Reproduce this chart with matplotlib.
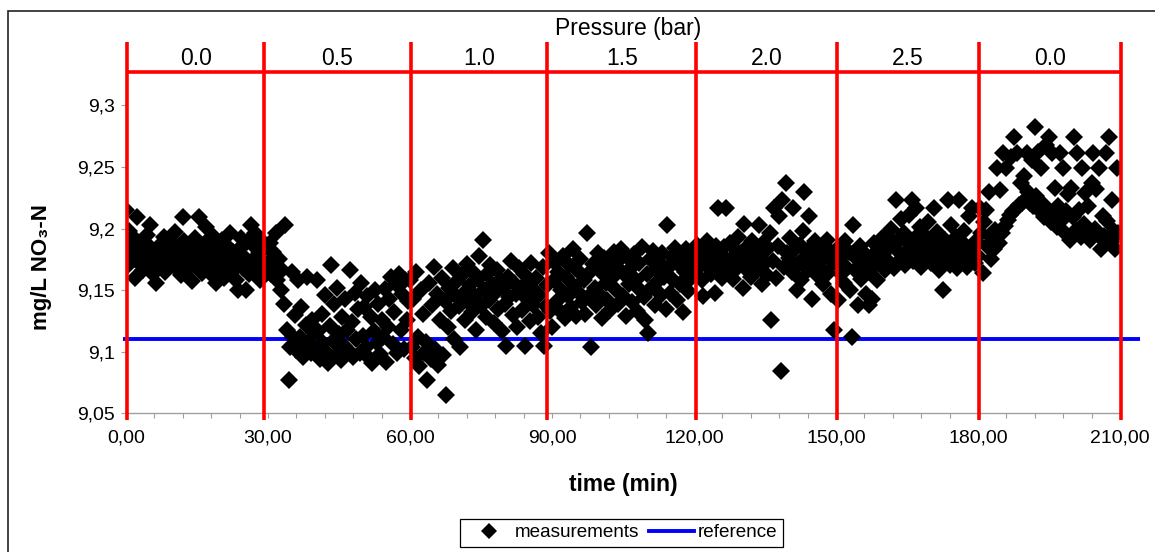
import numpy as np
import matplotlib
matplotlib.use("Agg")
import matplotlib.pyplot as plt
from matplotlib.ticker import FixedLocator, FuncFormatter
from matplotlib.patches import Rectangle
from matplotlib.lines import Line2D

plt.rcParams["font.family"] = ["Liberation Sans", "DejaVu Sans"]

# NO3-N readings (mg/L), one every 20 s, in 30-min blocks
no3_000_030 = [
    9.215, 9.170, 9.198, 9.185, 9.176, 9.192, 9.160, 9.209, 9.182, 9.171,
    9.188, 9.166, 9.179, 9.195, 9.172, 9.203, 9.184, 9.163, 9.177, 9.156,
    9.169, 9.186, 9.181, 9.174, 9.193, 9.165, 9.178, 9.188, 9.170, 9.183,
    9.176, 9.197, 9.168, 9.186, 9.179, 9.162, 9.209, 9.190, 9.174, 9.181,
    9.167, 9.185, 9.157, 9.178, 9.192, 9.171, 9.209, 9.183, 9.164, 9.176,
    9.188, 9.201, 9.170, 9.180, 9.163, 9.194, 9.174, 9.156, 9.185, 9.168,
    9.179, 9.191, 9.160, 9.175, 9.186, 9.170, 9.196, 9.165, 9.181, 9.173,
    9.158, 9.150, 9.184, 9.192, 9.168, 9.177, 9.150, 9.189, 9.163, 9.203,
    9.174, 9.186, 9.196, 9.169, 9.180, 9.158, 9.190, 9.172, 9.184, 9.165,
]
no3_030_060 = [
    9.172, 9.188, 9.163, 9.181, 9.170, 9.196, 9.158, 9.175, 9.150, 9.166,
    9.139, 9.203, 9.118, 9.077, 9.104, 9.165, 9.112, 9.130, 9.101, 9.158,
    9.112, 9.136, 9.096, 9.104, 9.122, 9.161, 9.108, 9.099, 9.126, 9.115,
    9.103, 9.158, 9.117, 9.094, 9.131, 9.107, 9.146, 9.100, 9.091, 9.121,
    9.170, 9.109, 9.139, 9.097, 9.152, 9.114, 9.093, 9.128, 9.105, 9.143,
    9.118, 9.101, 9.166, 9.124, 9.096, 9.148, 9.110, 9.135, 9.099, 9.156,
    9.113, 9.136, 9.104, 9.145, 9.095, 9.128, 9.091, 9.117, 9.150, 9.107,
    9.139, 9.098, 9.126, 9.112, 9.151, 9.092, 9.120, 9.143, 9.161, 9.106,
    9.132, 9.155, 9.099, 9.163, 9.118, 9.147, 9.102, 9.158, 9.126, 9.141,
]
no3_060_090 = [
    9.158, 9.104, 9.143, 9.095, 9.165, 9.112, 9.088, 9.150, 9.131, 9.099,
    9.108, 9.077, 9.156, 9.094, 9.138, 9.169, 9.102, 9.147, 9.089, 9.126,
    9.160, 9.097, 9.141, 9.065, 9.120, 9.152, 9.133, 9.168, 9.110, 9.145,
    9.157, 9.137, 9.104, 9.162, 9.148, 9.126, 9.171, 9.140, 9.154, 9.132,
    9.165, 9.145, 9.118, 9.159, 9.178, 9.137, 9.191, 9.150, 9.128, 9.163,
    9.142, 9.170, 9.155, 9.123, 9.148, 9.166, 9.135, 9.158, 9.117, 9.152,
    9.139, 9.105, 9.161, 9.144, 9.174, 9.130, 9.156, 9.147, 9.120, 9.168,
    9.151, 9.134, 9.163, 9.105, 9.143, 9.157, 9.125, 9.172, 9.138, 9.149,
    9.160, 9.128, 9.146, 9.115, 9.169, 9.105, 9.137, 9.154, 9.180, 9.133,
]
no3_090_120 = [
    9.120, 9.158, 9.172, 9.141, 9.165, 9.133, 9.150, 9.178, 9.127, 9.161,
    9.145, 9.170, 9.136, 9.183, 9.153, 9.129, 9.166, 9.148, 9.175, 9.140,
    9.158, 9.131, 9.196, 9.163, 9.146, 9.104, 9.171, 9.152, 9.138, 9.180,
    9.147, 9.165, 9.127, 9.176, 9.156, 9.142, 9.170, 9.134, 9.160, 9.181,
    9.151, 9.173, 9.139, 9.166, 9.183, 9.145, 9.162, 9.129, 9.176, 9.155,
    9.168, 9.140, 9.179, 9.158, 9.133, 9.172, 9.150, 9.185, 9.144, 9.126,
    9.163, 9.115, 9.175, 9.152, 9.182, 9.138, 9.167, 9.157, 9.173, 9.146,
    9.180, 9.161, 9.135, 9.203, 9.169, 9.148, 9.177, 9.158, 9.184, 9.142,
    9.171, 9.155, 9.178, 9.132, 9.165, 9.183, 9.149, 9.174, 9.160, 9.168,
]
no3_120_150 = [
    9.178, 9.166, 9.187, 9.172, 9.183, 9.158, 9.145, 9.176, 9.190, 9.169,
    9.181, 9.163, 9.174, 9.148, 9.186, 9.217, 9.170, 9.179, 9.160, 9.185,
    9.217, 9.172, 9.165, 9.188, 9.176, 9.159, 9.183, 9.168, 9.193, 9.174,
    9.180, 9.152, 9.204, 9.167, 9.186, 9.175, 9.161, 9.190, 9.171, 9.182,
    9.166, 9.203, 9.177, 9.155, 9.188, 9.172, 9.162, 9.184, 9.196, 9.126,
    9.174, 9.217, 9.160, 9.186, 9.210, 9.084, 9.223, 9.169, 9.237, 9.180,
    9.176, 9.192, 9.165, 9.217, 9.183, 9.150, 9.171, 9.187, 9.158, 9.198,
    9.230, 9.178, 9.166, 9.210, 9.185, 9.143, 9.173, 9.190, 9.162, 9.181,
    9.169, 9.186, 9.155, 9.177, 9.191, 9.164, 9.182, 9.147, 9.173, 9.118,
]
no3_150_180 = [
    9.172, 9.142, 9.185, 9.163, 9.178, 9.156, 9.190, 9.168, 9.181, 9.150,
    9.112, 9.203, 9.166, 9.175, 9.138, 9.186, 9.159, 9.171, 9.180, 9.147,
    9.165, 9.138, 9.177, 9.143, 9.188, 9.170, 9.158, 9.183, 9.174, 9.192,
    9.179, 9.166, 9.195, 9.184, 9.172, 9.200, 9.187, 9.168, 9.223, 9.191,
    9.181, 9.208, 9.176, 9.196, 9.170, 9.189, 9.211, 9.183, 9.223, 9.174,
    9.192, 9.217, 9.179, 9.201, 9.169, 9.186, 9.195, 9.176, 9.205, 9.183,
    9.172, 9.188, 9.217, 9.178, 9.197, 9.166, 9.185, 9.174, 9.150, 9.191,
    9.180, 9.223, 9.170, 9.203, 9.186, 9.176, 9.193, 9.168, 9.223, 9.182,
    9.175, 9.198, 9.187, 9.169, 9.210, 9.179, 9.217, 9.184, 9.172, 9.190,
]
no3_180_210 = [
    9.178, 9.217, 9.196, 9.164, 9.205, 9.215, 9.186, 9.230, 9.175, 9.192,
    9.183, 9.199, 9.249, 9.188, 9.231, 9.196, 9.261, 9.202, 9.249, 9.207,
    9.211, 9.258, 9.214, 9.274, 9.216, 9.261, 9.219, 9.237, 9.221, 9.243,
    9.223, 9.261, 9.230, 9.221, 9.256, 9.218, 9.282, 9.226, 9.262, 9.214,
    9.249, 9.220, 9.209, 9.268, 9.216, 9.274, 9.205, 9.261, 9.212, 9.233,
    9.201, 9.218, 9.261, 9.207, 9.249, 9.196, 9.214, 9.228, 9.191, 9.233,
    9.209, 9.274, 9.199, 9.261, 9.215, 9.193, 9.249, 9.204, 9.229, 9.196,
    9.218, 9.191, 9.237, 9.261, 9.200, 9.232, 9.195, 9.249, 9.183, 9.210,
    9.194, 9.261, 9.206, 9.274, 9.189, 9.223, 9.198, 9.183, 9.249, 9.196,
]
sample_step_min = 1 / 3

reference_value = 9.11
switch_times = [0.3, 29.1, 60.2, 89.0, 120.5, 150.2, 180.2, 210.2]
pressure_labels = ["0.0", "0.5", "1.0", "1.5", "2.0", "2.5", "0.0"]
yticks = [9.05, 9.10, 9.15, 9.20, 9.25, 9.30]
ytick_labels = ["9,05", "9,1", "9,15", "9,2", "9,25", "9,3"]

no3 = np.concatenate([no3_000_030, no3_030_060, no3_060_090, no3_090_120,
                      no3_120_150, no3_150_180, no3_180_210])
t = np.arange(len(no3)) * sample_step_min

W, H = 1155, 552
fig = plt.figure(figsize=(W / 100, H / 100), dpi=100)
ax = fig.add_axes([126 / W, 1 - 413.3 / H, (1120 - 126) / W, (413.3 - 43.7) / H])
ax.set_xlim(0, 210); ax.set_ylim(9.05, 9.35)

gray = "#a0a0a0"
for s in ("top", "right"): ax.spines[s].set_visible(False)
for s in ("left", "bottom"): ax.spines[s].set_color(gray); ax.spines[s].set_linewidth(1.0)

ax.xaxis.set_major_locator(FixedLocator(np.arange(0, 211, 6)))
ax.xaxis.set_major_formatter(FuncFormatter(
    lambda x, p: f"{x:.2f}".replace(".", ",") if round(x) % 30 == 0 else ""))
ax.set_yticks(yticks); ax.set_yticklabels(ytick_labels)
ax.tick_params(axis="both", direction="out", length=3.6, width=0.8, color=gray, labelsize=14)
ax.tick_params(axis="x", pad=8); ax.tick_params(axis="y", pad=4.3)

# reference line, measurements, pressure step markers
ax.plot([-0.6, 214.3], [reference_value, reference_value], color="#0000ff", lw=2.8,
        clip_on=False, zorder=1, solid_capstyle="butt")
ax.plot(t, no3, ls="none", marker="D", ms=9.3, mew=0, color="black", zorder=2)
ax.vlines(switch_times, 9.0446, 9.351, color="#ff0000", lw=2.6, clip_on=False, zorder=3)
ax.hlines(9.327, switch_times[0], switch_times[-1], color="#ff0000", lw=2.6, clip_on=False, zorder=3)
for i, lab in enumerate(pressure_labels):
    ax.text((switch_times[i] + switch_times[i + 1]) / 2, 9.3327, lab, ha="center",
            va="baseline", fontsize=16.5, clip_on=False)
ax.text(106.1, 9.357, "Pressure (bar)", ha="center", va="baseline", fontsize=16.5, clip_on=False)

fig.text(623 / W, 1 - 490.7 / H, "time (min)", ha="center", va="baseline",
         fontsize=16.4, fontweight="bold")
fig.text(42 / W, 1 - 267 / H, "mg/L NO₃-N", ha="center", va="center", rotation=90,
         fontsize=16, fontweight="bold")

handles = [Line2D([], [], ls="none", marker="D", ms=8.6, mew=0, color="black"),
           Line2D([], [], color="#0000ff", lw=2.8)]
leg = fig.legend(handles, ["measurements", "reference"], loc="center",
                 bbox_to_anchor=(621.7 / W, 1 - 532.8 / H), ncol=2, fontsize=13.6,
                 frameon=True, fancybox=False, edgecolor="black", framealpha=1,
                 handlelength=2.4, handletextpad=0.2, columnspacing=0.5,
                 borderpad=0.3, borderaxespad=0)
leg.get_frame().set_linewidth(0.9)

fig.patches.append(Rectangle((7.5 / W, -0.05), 1.0, 1 - 10.5 / H + 0.05, transform=fig.transFigure,
                             fill=False, ec="#222222", lw=1.2))

fig.savefig("out.png", dpi=100)
